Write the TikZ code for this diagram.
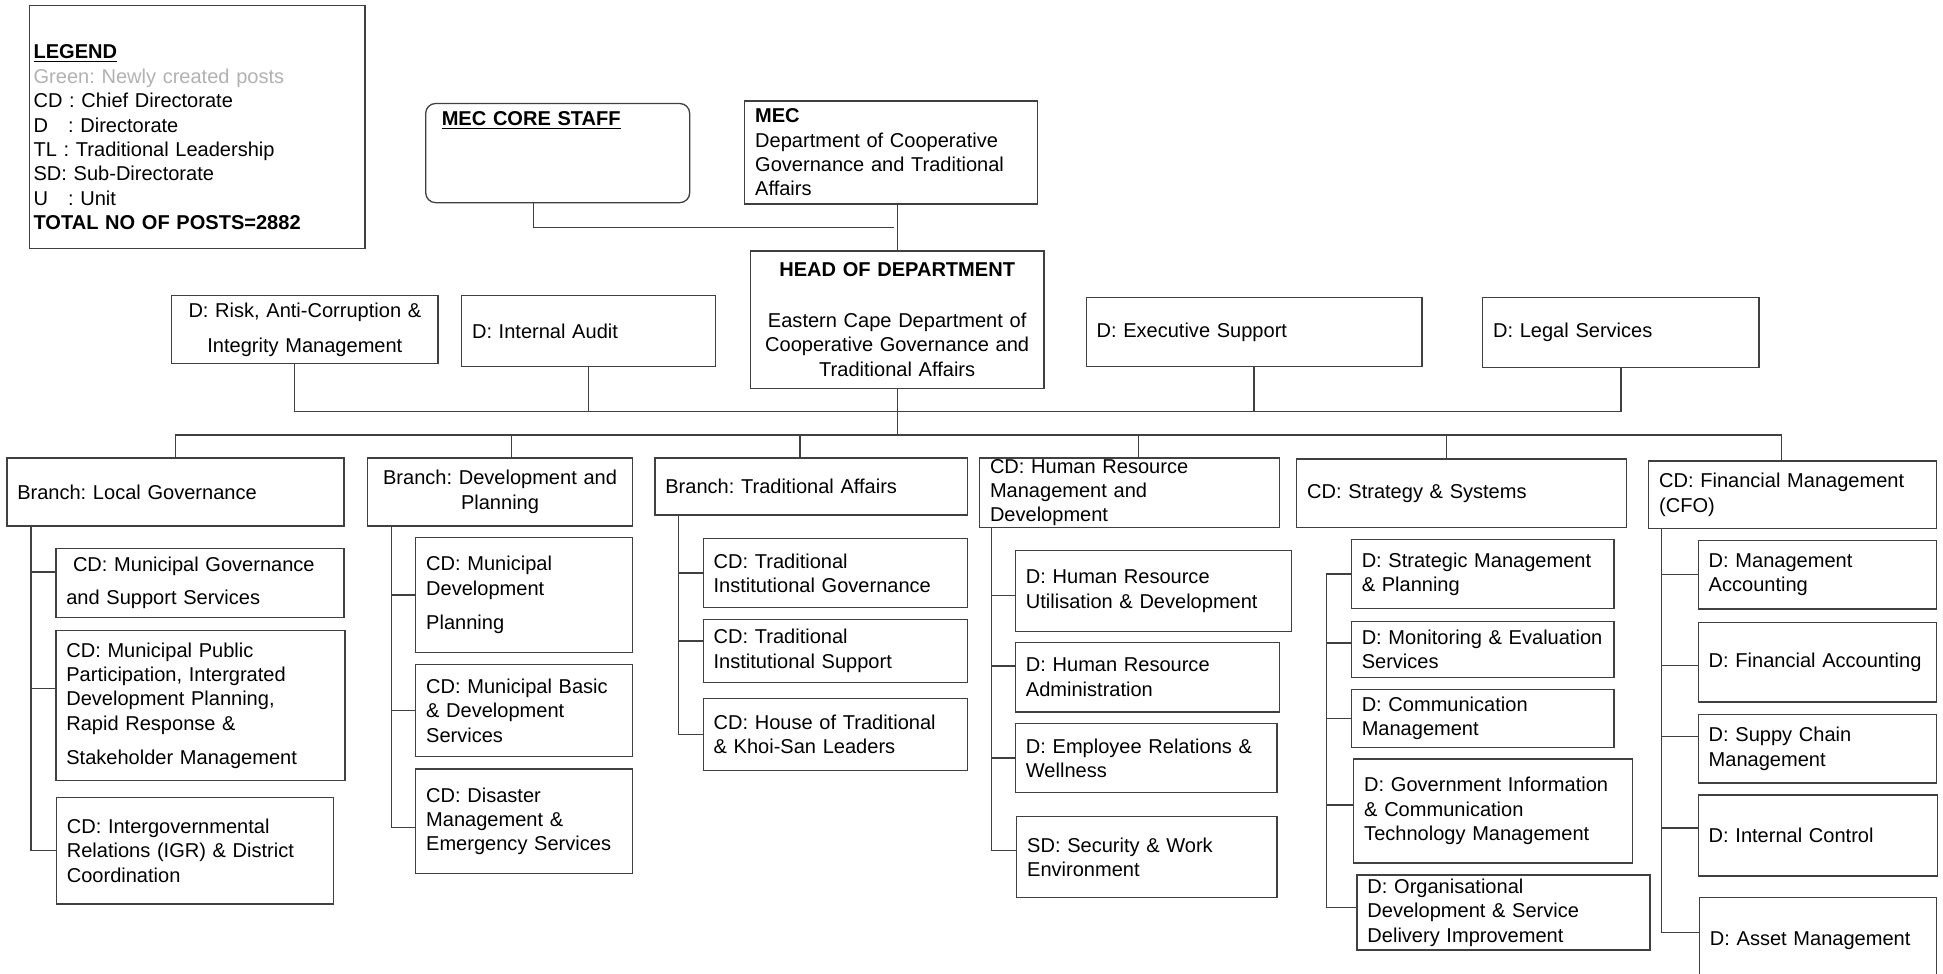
\documentclass[tikz,border=0pt]{standalone}
\usepackage{fontspec}
\setmainfont{Liberation Sans}
\usetikzlibrary{calc}
\frenchspacing
\begin{document}
\begin{tikzpicture}[x=0.025cm, y=-0.025cm, font=\fontsize{11.5}{14}\selectfont,
	box/.style 2 args={draw=black!75, line width=0.75pt, anchor=north west, align=left, inner xsep=0.21cm, inner ysep=0pt, text width=#1*0.025cm-0.42cm, minimum height=#2*0.025cm},
	link/.style={draw=black!75, line width=0.75pt}]
	\path[use as bounding box, fill=white] (0,0) rectangle (1568,786);
	
	\node[box={271}{196}, inner xsep=0.09cm, text width=6.595cm, inner ysep=0.075cm, text height=1cm, text depth=3.75cm] (legend) at (23,4) {\underline{\textbf{LEGEND}}\\{\color{gray!60}Green: Newly created posts}\\CD : Chief Directorate\\D\ \ \ : Directorate\\TL : Traditional Leadership\\SD: Sub-Directorate\\U\ \ \ : Unit\\\textbf{TOTAL NO OF POSTS=2882}};
	\node[box={213}{80}, rounded corners=0.2cm, inner xsep=0.325cm, text width=4.675cm, inner ysep=0.075cm, text height=0.375cm, text depth=1.475cm] (core) at (343,83) {\underline{\textbf{MEC CORE STAFF}}};
	\node[box={236.5}{83}] (mec) at (600.5,81) {\textbf{MEC}\\Department of Cooperative\\Governance and Traditional\\Affairs};
	\node[box={237}{111}, align=center] (hod) at (605,202) {\textbf{HEAD OF DEPARTMENT}\\[15pt]Eastern Cape Department of\\Cooperative Governance and\\Traditional Affairs};
	
	\node[box={215}{55}, align=center] (risk) at (138,238) {D: Risk, Anti-Corruption \&\\[6.3pt]Integrity Management};
	\node[box={205}{57}] (audit) at (372,238) {D: Internal Audit};
	\node[box={271}{55.4}] (exec) at (876,239.6) {D: Executive Support};
	\node[box={223}{56.5}] (legal) at (1196,239.5) {D: Legal Services};
	
	\node[box={272}{55}] (local) at (5,369) {Branch: Local Governance};
	\node[box={214}{55}, align=center] (dev) at (296,369) {Branch: Development and\\Planning};
	\node[box={252}{46}] (trad) at (528,369) {Branch: Traditional Affairs};
	\node[box={242}{56}] (hr) at (790,369) {CD: Human Resource\\Management and\\Development};
	\node[box={266}{55}] (strat) at (1046,370) {CD: Strategy \& Systems};
	\node[box={232}{54.4}] (cfo) at (1330,371.6) {CD: Financial Management\\(CFO)};
	
	\node[box={232.4}{56}] (lg1) at (44.6,442) {\ CD: Municipal Governance\\[5.2pt]and Support Services};
	\node[box={233.4}{121}] (lg2) at (44.6,508.5) {CD: Municipal Public\\Participation, Intergrated\\Development Planning,\\Rapid Response \&\\[5.7pt]Stakeholder Management};
	\node[box={223.6}{86}] (lg3) at (45,643) {CD: Intergovernmental\\Relations (IGR) \& District\\Coordination};
	
	\node[box={174.7}{92.6}] (dp1) at (335,433.4) {CD: Municipal\\Development\\[5.9pt]Planning};
	\node[box={175}{74}] (dp2) at (335,536) {CD: Municipal Basic\\\& Development\\Services};
	\node[box={175}{84.6}] (dp3) at (335,620) {CD: Disaster\\Management \&\\Emergency Services};
	
	\node[box={213.5}{56}] (ta1) at (567,434) {CD: Traditional\\Institutional Governance};
	\node[box={213.5}{50.4}] (ta2) at (567,499.6) {CD: Traditional\\Institutional Support};
	\node[box={213.5}{58.5}] (ta3) at (567,563) {CD: House of Traditional\\\& Khoi-San Leaders};
	
	\node[box={222.6}{65}] (hr1) at (819,444) {D: Human Resource\\Utilisation \& Development};
	\node[box={213}{56}] (hr2) at (819,518) {D: Human Resource\\Administration};
	\node[box={211}{55.4}] (hr3) at (819,583.6) {D: Employee Relations \&\\Wellness};
	\node[box={210}{65.4}] (hr4) at (820,658.6) {SD: Security \& Work\\Environment};
	
	\node[box={212}{55.7}] (st1) at (1090,434.9) {D: Strategic Management\\\& Planning};
	\node[box={212}{45.2}] (st2) at (1090,500.8) {D: Monitoring \& Evaluation\\Services};
	\node[box={212}{46.7}] (st3) at (1090,555.8) {D: Communication\\Management};
	\node[box={225}{84}] (st4) at (1092,612) {D: Government Information\\\& Communication\\Technology Management};
	\node[box={236.4}{60.4}] (st5) at (1094.6,705.6) {D: Organisational\\Development \& Service\\Delivery Improvement};
	
	\node[box={192}{55.3}] (cf1) at (1370,435.7) {D: Management\\Accounting};
	\node[box={192}{64.4}] (cf2) at (1370,501.6) {D: Financial Accounting};
	\node[box={192}{55.5}] (cf3) at (1370,575.9) {D: Suppy Chain\\Management};
	\node[box={193}{65.5}] (cf4) at (1370,641) {D: Internal Control};
	\node[box={191}{69}] (cf5) at (1371,724) {D: Asset Management};
	
	\coordinate (staffbar) at (0,332);
	\coordinate (branchbar) at (0,351);
	\draw[link] ($(core.south)+(-19.5,0)$) |- ($(mec.south)!0.5!(hod.north)$);
	\draw[link] (hod.north |- mec.south) -- (hod.north);
	\draw[link] ($(risk.south)+(-8.5,0)$) |- (staffbar -| legal.south) -- (legal.south);
	\draw[link] (audit.south) -- (audit.south |- staffbar);
	\draw[link] (exec.south) -- (exec.south |- staffbar);
	\draw[link] (hod.south) -- (hod.south |- branchbar);
	\draw[link] (local.north) |- ($(branchbar -| cfo.north)+(-9,0)$) -- ($(cfo.north)+(-9,0)$);
	\draw[link] ($(dev.north)+(9,0)$) -- ($(dev.north |- branchbar)+(9,0)$);
	\draw[link] ($(trad.north)+(-9,0)$) -- ($(trad.north |- branchbar)+(-9,0)$);
	\draw[link] ($(hr.north)+(7,0)$) -- ($(hr.north |- branchbar)+(7,0)$);
	\draw[link] ($(strat.north)+(-12,0)$) -- ($(strat.north |- branchbar)+(-12,0)$);
	
	\draw[link] ($(local.south west)+(20,0)$) |- (lg3.west);
	\draw[link] ($(lg1.west)+(0,-9)$) -- ++(-19.6,0);
	\draw[link] ($(lg2.west)+(0,-14)$) -- ++(-19.6,0);
	
	\draw[link] ($(dev.south west)+(19.7,0)$) |- ($(dp3.west)+(0,5)$);
	\draw[link] (dp1.west) -- ++(-19.3,0);
	\draw[link] (dp2.west) -- ++(-19.3,0);
	
	\draw[link] ($(trad.south west)+(19.6,0)$) |- (ta3.west);
	\draw[link] (ta1.west) -- ++(-19.4,0);
	\draw[link] ($(ta2.west)+(0,-8)$) -- ++(-19.4,0);
	
	\draw[link] ($(hr.south west)+(10,0)$) |- ($(hr4.west)+(0,-5.4)$);
	\draw[link] ($(hr1.west)+(0,3.5)$) -- ++(-19,0);
	\draw[link] ($(hr2.west)+(0,-9)$) -- ++(-19,0);
	\draw[link] (hr3.west) -- ++(-19,0);
	
	\draw[link] (st1.west) -- ++(-19.3,0) |- ($(st5.west)+(0,-4)$);
	\draw[link] ($(st2.west)+(0,-5)$) -- ++(-19.3,0);
	\draw[link] (st3.west) -- ++(-19.3,0);
	\draw[link] ($(st4.west)+(0,-5)$) -- ++(-21.3,0);
	
	\draw[link] ($(cfo.south west)+(11,0)$) |- ($(cf5.west)+(0,-6.5)$);
	\draw[link] (cf1.west) -- ++(-29,0);
	\draw[link] ($(cf2.west)+(0,3)$) -- ++(-29,0);
	\draw[link] ($(cf3.west)+(0,-10)$) -- ++(-29,0);
	\draw[link] ($(cf4.west)+(0,-6)$) -- ++(-29,0);
\end{tikzpicture}
\end{document}
